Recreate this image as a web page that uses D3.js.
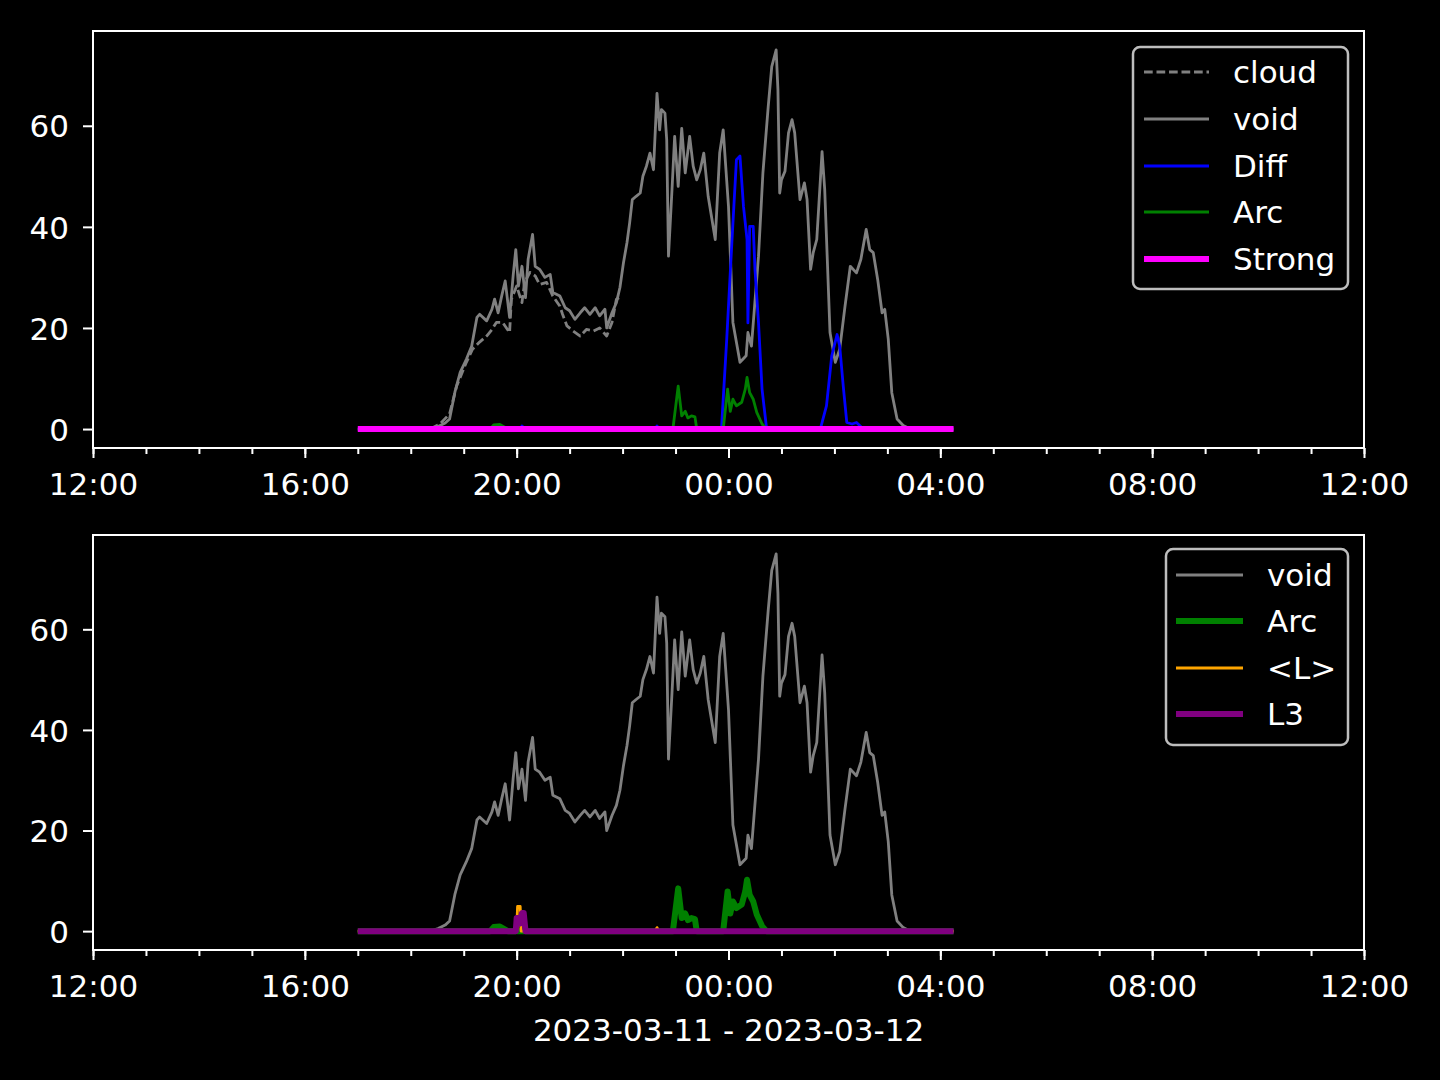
<!DOCTYPE html>
<html><head><meta charset="utf-8">
<script src="https://cdn.jsdelivr.net/npm/d3@7"></script>
<style>body{margin:0;background:#000}svg{display:block}</style>
</head><body><svg id="c" width="1440" height="1080"></svg>
<script>
// ---- data: minutes since 2023-03-11 12:00 and values ----
const voidTimes = [300,382,391,399,404,410,416,423,429,435,438,446,452,455,459,463,467,472,476,479,482,486,490,493,498,501,506,512,518,521,529,535,540,546,552,557,563,569,574,580,582,588,593,597,601,605,608,611,615,620,623,627,631,635,639,642,644,648,650,652,656,659,663,667,671,676,680,684,688,692,697,705,710,714,720,725,733,740,742,746,754,759,765,769,774,776,778,780,784,788,792,795,801,806,809,813,816,820,826,829,835,841,846,852,858,865,870,876,880,884,889,894,897,901,905,911,918,926,975];
const voidValues = [0,0,0.5,1.2,2,7.3,11.2,13.8,16.4,22.1,22.7,21.4,23.7,25.7,23,26.3,29.3,22.1,30.3,35.5,28.3,32.2,26,33.6,38.5,32.2,31.6,30,30.6,27,26.3,24,23.4,21.7,23,24,22.7,24,22.4,23.7,20,23,25,28,32.9,36.9,40.8,45.4,46,46.7,50,52,54.6,51.3,66.4,59.2,63.2,62.5,57.2,34.2,47.4,57.9,48,59.5,50.7,57.9,52,49.3,51.3,54.6,46,37.5,54.6,59.2,44,21.1,13.2,14.5,19.1,16.4,34.2,50.7,63.8,71.7,75,67.1,46.7,49.3,51,58.6,61.2,58.6,45.4,48.7,45.4,31.6,34.9,37.5,54.9,47.4,19.1,13.2,15.8,24.3,32.2,30.9,33.6,39.5,35.5,34.9,29.6,23,23.7,17.8,7.2,2,0.7,0,0];

const cloudTimes = [382,393,404,412,423,430,438,446,452,457,464,472,474,480,486,489,495,501,506,514,521,529,532,537,544,552,559,567,574,582,588,593,599];
const cloudValues = [0,1,3,8.5,13.2,15.8,17.2,18.4,19.7,21.1,21.1,19.1,25.7,28.3,25,29,31,30.3,28.6,29,26.3,24.3,22.7,20.4,19.4,18.4,19.7,19.4,20,18.4,21.1,25.7,26.3];

const diffTimes = [300,450,455,461,484,486,490,637,639,641,712,718,724,729,733,737,741,742,744,748,750,754,758,763,767,824,831,837,843,846,850,854,860,865,871,876,975];
const diffValues = [0,0,0.6,0,0,0.6,0,0,0.6,0,0,17.8,37.5,53.3,54,44,37.5,21,40.1,40.1,31.6,21,7.9,0.3,0,0,4.6,14.5,18.7,16.4,8.5,1.3,1,1.3,0.3,0,0];

const arcTimes = [300,450,454,461,467,470,657,663,667,671,674,678,682,684,714,719,722,725,729,735,739,741,744,748,752,758,763,975];
const arcValues = [0,0,0.8,0.9,0.3,0,0,8.5,2.6,3.5,2.2,2.6,2.4,0,0,7.9,3.5,5.9,4.6,5.3,7.9,10.2,7.2,5.9,3.3,1,0,0];

const strongTimes = [300,975];
const strongValues = [0,0];

const lTimes = [300,480,481,484,485,637,639,641,975];
const lValues = [0,0,4.9,4.9,0,0,0.7,0,0];

const l3Times = [300,479,480,483,484,486,488,490,975];
const l3Values = [0,0,2.6,2.6,1.5,3.6,3.6,0,0];

const xTickLabels = ["12:00","16:00","20:00","00:00","04:00","08:00","12:00"];
const yTickValues = [0,20,40,60];
const xLabel = "2023-03-11 - 2023-03-12";

// ---- setup ----
const FONT = "DejaVu Sans, sans-serif";
const FS = 31;
const svg = d3.select("#c");
svg.append("rect").attr("width",1440).attr("height",1080).attr("fill","#000");

const base = new Date(2023,2,11,12,0,0);
const toDate = m => new Date(base.getTime() + m*60000);
const end = new Date(base.getTime() + 24*3600000);
const x = d3.scaleTime().domain([base,end]).range([93,1364]);

function series(times, values){ return times.map((t,i)=>({t:toDate(t), v:values[i]})); }

function panel(top, bottom, lines, legendBox, legendItems){
  const y = d3.scaleLinear().domain([-3.75,78.75]).range([bottom, top]);
  const g = svg.append("g");
  const clipId = "clip"+top;
  g.append("clipPath").attr("id",clipId).append("rect")
    .attr("x",93).attr("y",top).attr("width",1364-93).attr("height",bottom-top);
  const line = d3.line().x(d=>x(d.t)).y(d=>y(d.v));
  const lg = g.append("g").attr("clip-path",`url(#${clipId})`);
  lines.forEach(L=>{
    lg.append("path").datum(series(L.t,L.v)).attr("d",line)
      .attr("fill","none").attr("stroke",L.color).attr("stroke-width",L.w)
      .attr("stroke-linejoin","round")
      .attr("stroke-dasharray",L.dash||null);
  });
  // x axis
  const xa = d3.axisBottom(x).ticks(d3.timeHour.every(4)).tickSize(10).tickPadding(15)
    .tickFormat((d,i)=>xTickLabels[i]);
  const xg = g.append("g").attr("transform",`translate(0,${bottom})`).call(xa);
  const xm = d3.axisBottom(x).ticks(d3.timeHour.every(1)).tickSize(6).tickFormat("");
  const xmg = g.append("g").attr("transform",`translate(0,${bottom})`).call(xm);
  // y axis
  const ya = d3.axisLeft(y).tickValues(yTickValues).tickSize(10).tickPadding(14);
  const yg = g.append("g").attr("transform",`translate(93,0)`).call(ya);
  [xg,xmg,yg].forEach(a=>{
    a.select(".domain").remove();
    a.selectAll("line").attr("stroke","#fff").attr("stroke-width",2);
    a.selectAll("text").attr("fill","#fff").attr("font-family",FONT).attr("font-size",FS);
  });
  xg.selectAll("text").attr("dy","0.71em");
  yg.selectAll("text").attr("dy","0.36em");
  // spines
  g.append("rect").attr("x",93).attr("y",top).attr("width",1364-93).attr("height",bottom-top)
    .attr("fill","none").attr("stroke","#fff").attr("stroke-width",2);
  // legend
  const b = legendBox;
  g.append("rect").attr("x",b.x0).attr("y",b.y0).attr("width",b.x1-b.x0).attr("height",b.y1-b.y0)
    .attr("rx",7).attr("fill","#000").attr("stroke","#bdbdbd").attr("stroke-width",2.5);
  legendItems.forEach((it,i)=>{
    const yy = b.rows[i];
    g.append("line").attr("x1",b.h0).attr("x2",b.h1).attr("y1",yy).attr("y2",yy)
      .attr("stroke",it.color).attr("stroke-width",it.w).attr("stroke-dasharray",it.dash||null);
    g.append("text").attr("x",b.tx).attr("y",yy).attr("dy","0.36em")
      .attr("fill","#fff").attr("font-family",FONT).attr("font-size",FS).text(it.name);
  });
  return y;
}

const cCloud = {name:"cloud", t:cloudTimes, v:cloudValues, color:"#808080", w:2.8, dash:"8.7,3.8"};
const cVoid = {name:"void", t:voidTimes, v:voidValues, color:"#808080", w:2.8};
const cDiff = {name:"Diff", t:diffTimes, v:diffValues, color:"#0000ff", w:2.8};
const cArc = {name:"Arc", t:arcTimes, v:arcValues, color:"#008000", w:2.8};
const cStrong = {name:"Strong", t:strongTimes, v:strongValues, color:"#ff00ff", w:6};
const cArc2 = {name:"Arc", t:arcTimes, v:arcValues, color:"#008000", w:6};
const cL = {name:"<L>", t:lTimes, v:lValues, color:"#ffa500", w:2.8};
const cL3 = {name:"L3", t:l3Times, v:l3Values, color:"#800080", w:6};

panel(31,448,[cCloud,cVoid,cDiff,cArc,cStrong],
  {x0:1133,x1:1348,y0:47,y1:289,h0:1144,h1:1209,tx:1233,rows:[72,119,166,212,259]},
  [cCloud,cVoid,cDiff,cArc,cStrong]);
panel(535,950,[cVoid,cArc2,cL,cL3],
  {x0:1166,x1:1348,y0:549,y1:745,h0:1176,h1:1243,tx:1267,rows:[575,621,668,714]},
  [cVoid,cArc2,cL,cL3]);

svg.append("text").attr("x",728.5).attr("y",1030).attr("dy","0.36em").attr("text-anchor","middle")
  .attr("fill","#fff").attr("font-family",FONT).attr("font-size",FS).text(xLabel);
</script></body></html>
